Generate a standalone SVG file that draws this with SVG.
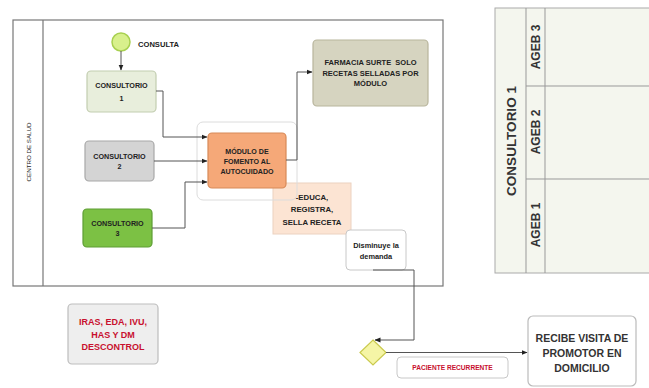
<svg xmlns="http://www.w3.org/2000/svg" width="649" height="388" viewBox="0 0 649 388">
<style>
text{font-family:"Liberation Sans",Arial,sans-serif;font-weight:bold;fill:#222;text-anchor:middle}
.ln{fill:none;stroke:#555;stroke-width:1}
.t7{font-size:7.2px}
</style>
<defs>
<marker id="ah" markerWidth="6" markerHeight="6" refX="5.5" refY="3" orient="auto" markerUnits="userSpaceOnUse">
<path d="M0,0.5 L6,3 L0,5.5 Z" fill="#222"/>
</marker>
</defs>
<rect width="649" height="388" fill="#fff"/>

<g id="pool-centro">
<rect x="13" y="20" width="430" height="266" fill="#fff" stroke="#777" stroke-width="1.2"/>
<line x1="43" y1="20" x2="43" y2="286" stroke="#777" stroke-width="1.2"/>
<text x="0" y="0" transform="translate(31,152) rotate(-90)" style="font-weight:normal;font-size:6.2px">CENTRO DE SALUD</text>
</g>

<g id="pool-consultorio1">
<rect x="495" y="8" width="160" height="265" fill="#f4f6ee" stroke="#aaa" stroke-width="1"/>
<line x1="526" y1="8" x2="526" y2="273" stroke="#999"/>
<line x1="545" y1="8" x2="545" y2="273" stroke="#999"/>
<line x1="526" y1="86" x2="649" y2="86" stroke="#999"/>
<line x1="526" y1="179" x2="649" y2="179" stroke="#999"/>
<text transform="translate(516,141) rotate(-90)" style="font-size:13.5px;fill:#333">CONSULTORIO 1</text>
<text transform="translate(540,47) rotate(-90)" style="font-size:12px;fill:#333">AGEB 3</text>
<text transform="translate(540,132) rotate(-90)" style="font-size:12px;fill:#333">AGEB 2</text>
<text transform="translate(540,225) rotate(-90)" style="font-size:12px;fill:#333">AGEB 1</text>
</g>

<g id="start">
<circle cx="121" cy="42" r="9" fill="#d8f08c" stroke="#a8d050" stroke-width="1.5"/>
<text x="138" y="47" style="font-size:7.6px;text-anchor:start">CONSULTA</text>
</g>

<g id="consultorio1">
<rect x="87" y="71" width="69" height="41" rx="4" fill="#e8eedc" stroke="#c2cdb0" stroke-width="1.2"/>
<text class="t7" x="121.5" y="88">CONSULTORIO</text>
<text class="t7" x="121.5" y="100.5">1</text>
</g>

<g id="consultorio2">
<rect x="85" y="141" width="69" height="40" rx="4" fill="#d4d4d4" stroke="#a8a8a8" stroke-width="1.2"/>
<text class="t7" x="119.5" y="158.5">CONSULTORIO</text>
<text class="t7" x="119.5" y="168.5">2</text>
</g>

<g id="consultorio3">
<rect x="83" y="209" width="69" height="38" rx="4" fill="#7cc144" stroke="#5e9e34" stroke-width="1.2"/>
<text class="t7" x="117.5" y="225.5">CONSULTORIO</text>
<text class="t7" x="117.5" y="235.5">3</text>
</g>

<g id="educa">
<rect x="273" y="183" width="78" height="51" fill="#fce4d3" stroke="#ecd2c0" stroke-width="1"/>
<text x="312" y="199.5" style="font-size:7.8px">-EDUCA,</text>
<text x="312" y="211.5" style="font-size:7.8px">REGISTRA,</text>
<text x="312" y="224.5" style="font-size:7.8px">SELLA RECETA</text>
</g>

<g id="modulo">
<rect x="197" y="122" width="100" height="78" rx="6" fill="none" stroke="#dcdcdc" stroke-width="1"/>
<rect x="208" y="133" width="78" height="55" rx="4" fill="#f5a878" stroke="#d88a58" stroke-width="1.2"/>
<text x="247" y="153.5" style="font-size:7.1px">MÓDULO DE</text>
<text x="247" y="163.5" style="font-size:7.1px">FOMENTO AL</text>
<text x="247" y="173.5" style="font-size:7.1px">AUTOCUIDADO</text>
</g>

<g id="farmacia">
<rect x="313" y="40" width="115" height="66" rx="4" fill="#d6d4c0" stroke="#b8b59c" stroke-width="1.2"/>
<text x="370.5" y="65" style="font-size:7.5px" xml:space="preserve">FARMACIA SURTE  SOLO</text>
<text x="370.5" y="75.5" style="font-size:7.5px">RECETAS SELLADAS POR</text>
<text x="370.5" y="86" style="font-size:7.5px">MÓDULO</text>
</g>

<g id="disminuye">
<rect x="346" y="230" width="60" height="40" rx="4" fill="#fff" stroke="#c8c8c8" stroke-width="1"/>
<text x="376" y="247.5" style="font-size:7.4px">Disminuye la</text>
<text x="376" y="258.5" style="font-size:7.4px">demanda</text>
</g>

<g id="iras">
<rect x="68" y="304" width="90" height="60" rx="4" fill="#eeeeee" stroke="#bdbdbd" stroke-width="1.2"/>
<text x="113" y="325" style="font-size:9px;fill:#c8102e">IRAS, EDA, IVU,</text>
<text x="113" y="337.5" style="font-size:9px;fill:#c8102e">HAS Y DM</text>
<text x="113" y="350" style="font-size:9px;fill:#c8102e">DESCONTROL</text>
</g>

<g id="gateway">
<path d="M373,340 L386,352.5 L373,365 L360,352.5 Z" fill="#f5f5a6" stroke="#c9c94c" stroke-width="1.2"/>
</g>

<g id="paciente-label">
<rect x="397" y="357" width="111" height="21" rx="4" fill="#fff" stroke="#c8c8c8" stroke-width="1"/>
<text x="452.5" y="370" style="font-size:6.6px;fill:#c8102e">PACIENTE RECURRENTE</text>
</g>

<g id="recibe">
<rect x="528" y="316" width="108" height="70" rx="5" fill="#fff" stroke="#bbb" stroke-width="1.2"/>
<text x="582" y="342" style="font-size:10.5px;fill:#333">RECIBE VISITA DE</text>
<text x="582" y="357" style="font-size:10.5px;fill:#333">PROMOTOR EN</text>
<text x="582" y="372" style="font-size:10.5px;fill:#333">DOMICILIO</text>
</g>

<g id="connectors">
<path class="ln" d="M121,51 L121,70" marker-end="url(#ah)"/>
<path class="ln" d="M156,91 L163,91 L163,137 L207,137" marker-end="url(#ah)"/>
<path class="ln" d="M154,161 L207,161" marker-end="url(#ah)"/>
<path class="ln" d="M152,228 L185,228 L185,182 L207,182" marker-end="url(#ah)"/>
<path class="ln" d="M286,160 L297,160 L297,72 L312,72" marker-end="url(#ah)"/>
<path class="ln" d="M373,270 L414,270 L414,340 L375,340" marker-end="url(#ah)"/>
<path class="ln" d="M386,352.5 L527,352.5" marker-end="url(#ah)"/>
</g>
</svg>
